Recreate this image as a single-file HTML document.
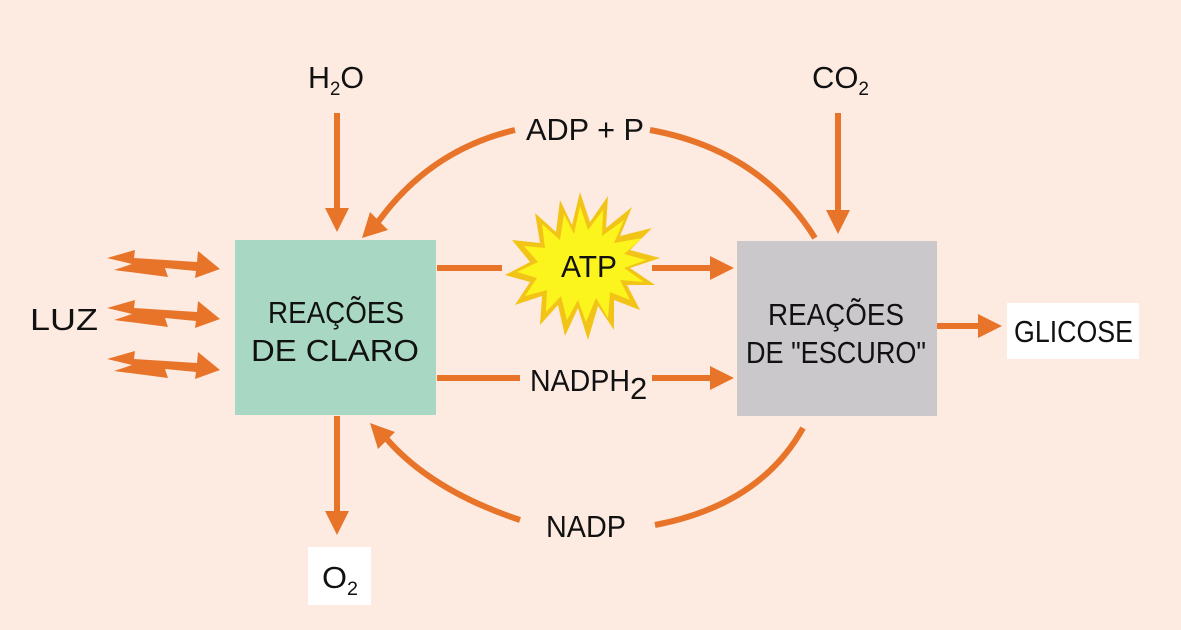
<!DOCTYPE html>
<html><head><meta charset="utf-8"><style>
html,body{margin:0;padding:0;background:#fdebe1;}
svg{display:block}
text{font-family:"Liberation Sans",sans-serif;fill:#111;font-size:31px}
</style></head><body>
<svg width="1181" height="630" viewBox="0 0 1181 630">
<rect width="1181" height="630" fill="#fdebe1"/>
<rect x="235" y="240" width="201" height="175" fill="#a8d8c3"/>
<rect x="737" y="241" width="200" height="175" fill="#cbc8cc"/>
<rect x="1007" y="303" width="132" height="56" fill="#fff"/>
<rect x="308" y="547" width="63" height="58" fill="#fff"/>
<g stroke="#e8742a" stroke-width="6" fill="none">
<line x1="337" y1="113" x2="337" y2="210"/>
<line x1="838" y1="113" x2="838" y2="212"/>
<line x1="337" y1="416" x2="337" y2="513"/>
<line x1="437" y1="268" x2="502" y2="268"/>
<line x1="652" y1="268" x2="712" y2="268"/>
<line x1="437" y1="378" x2="520" y2="378"/>
<line x1="652" y1="378" x2="712" y2="378"/>
<line x1="937" y1="326" x2="980" y2="326"/>
<path d="M815 238 Q760 150 650 130"/>
<path d="M515 130 Q430 150 378 222"/>
<path d="M803 428 Q760 505 655 525"/>
<path d="M520 520 Q430 490 385 437"/>
</g>
<g fill="#e8742a">
<polygon points="325,208 349,208 337,232"/>
<polygon points="826,210 850,210 838,234"/>
<polygon points="325,511 349,511 337,535"/>
<polygon points="710,256 710,280 734,268"/>
<polygon points="710,366 710,390 734,378"/>
<polygon points="978,314 978,338 1002,326"/>
<polygon points="362,238 370,212 388,230"/>
<polygon points="370,423 378,449 395,432"/>
<g id="b"><polygon points="107,258 135,250 134,258 197,262 198,251 220,269 195,278 196,271 165,268 168,277 114,270 132,264"/></g>
<use href="#b" transform="translate(0,50)"/>
<use href="#b" transform="translate(0,101)"/>
</g>
<polygon fill="#f2c417" points="580,192 590,222 608,196 606,228 632,207 620,236 652,228 630,250 660,258 630,268 655,285 627,285 640,310 614,300 614,330 598,306 588,340 578,308 565,336 558,305 540,325 542,296 515,305 530,282 505,275 530,262 512,240 540,243 535,213 556,232 560,200 572,225"/>
<polygon fill="#fcf51d" points="580,206 588,230 603,210 602,236 624,220 614,243 642,238 624,254 646,260 624,268 644,282 620,280 630,300 610,292 608,318 596,298 586,322 578,300 567,320 561,296 546,312 547,290 525,296 537,278 517,272 538,262 524,246 545,248 542,224 560,240 564,214 574,234"/>
<text x="561" y="277" textLength="56" lengthAdjust="spacingAndGlyphs">ATP</text>
<text x="308" y="88" textLength="56" lengthAdjust="spacingAndGlyphs">H<tspan font-size="19" dy="7">2</tspan><tspan dy="-7">O</tspan></text>
<text x="812" y="88" textLength="57" lengthAdjust="spacingAndGlyphs">CO<tspan font-size="19" dy="7">2</tspan></text>
<text x="526" y="140" textLength="118" lengthAdjust="spacingAndGlyphs">ADP + P</text>
<text x="530" y="391" textLength="100" lengthAdjust="spacingAndGlyphs">NADPH</text><text x="630" y="399" font-size="19">2</text>
<text x="546" y="537" textLength="80" lengthAdjust="spacingAndGlyphs">NADP</text>
<text x="322" y="588" textLength="36" lengthAdjust="spacingAndGlyphs">O<tspan font-size="19" dy="7">2</tspan></text>
<text x="30" y="330" textLength="68" lengthAdjust="spacingAndGlyphs">LUZ</text>
<text x="268" y="323" textLength="136" lengthAdjust="spacingAndGlyphs">REAÇÕES</text>
<text x="251" y="361" textLength="168" lengthAdjust="spacingAndGlyphs">DE CLARO</text>
<text x="768" y="325" textLength="136" lengthAdjust="spacingAndGlyphs">REAÇÕES</text>
<text x="746" y="363" textLength="180" lengthAdjust="spacingAndGlyphs">DE "ESCURO"</text>
<text x="1014" y="342" textLength="119" lengthAdjust="spacingAndGlyphs">GLICOSE</text>
</svg>
</body></html>
